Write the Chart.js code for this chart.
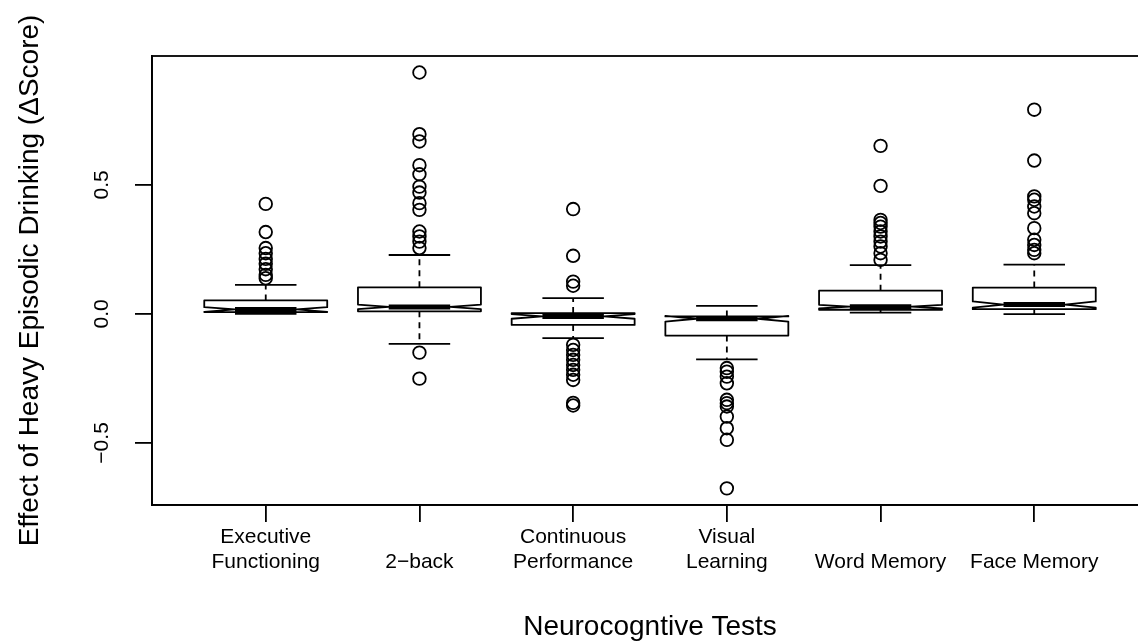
<!DOCTYPE html>
<html>
<head>
<meta charset="utf-8">
<title>Effect of Heavy Episodic Drinking</title>
<script src="https://cdn.jsdelivr.net/npm/chart.js@4.4.1/dist/chart.umd.min.js"></script>
<style>
    html, body { margin: 0; padding: 0; background: #ffffff; overflow: hidden; }
    #wrap { position: relative; width: 1160px; height: 643px; }
</style>
</head>
<body>
<div id="wrap"><canvas id="box-chart"></canvas></div>
<script>
// Test names (two-line tick labels, single-line ones sit on the second line)
const tests = [
    ['Executive', 'Functioning'],
    ['', '2\u2212back'],
    ['Continuous', 'Performance'],
    ['Visual', 'Learning'],
    ['', 'Word Memory'],
    ['', 'Face Memory']
];

// Box statistics per test
const whiskerLow  = [0.000, -0.116, -0.094, -0.176, 0.005, -0.001];
const quart1      = [0.007,  0.010, -0.043, -0.084, 0.016,  0.018];
const notchLow    = [0.008,  0.018, -0.019, -0.030, 0.021,  0.024];
const medians     = [0.017,  0.027, -0.010, -0.019, 0.028,  0.036];
const notchHigh   = [0.026,  0.036, -0.001, -0.008, 0.035,  0.048];
const quart3      = [0.052,  0.103,  0.003, -0.010, 0.090,  0.102];
const whiskerHigh = [0.112,  0.228,  0.061,  0.031, 0.189,  0.191];

// Outliers per test
const outExecutive = [0.426, 0.317, 0.255, 0.235, 0.213, 0.194, 0.173, 0.151, 0.138];
const outTwoBack = [0.935, 0.696, 0.668, 0.576, 0.541, 0.493, 0.470, 0.429, 0.403, 0.319, 0.300, 0.280, 0.255, -0.150, -0.251];
const outContinuous = [0.406, 0.225, 0.125, 0.109, -0.120, -0.140, -0.159, -0.178, -0.198, -0.217, -0.236, -0.256, -0.345, -0.355];
const outVisual = [-0.210, -0.224, -0.243, -0.269, -0.333, -0.346, -0.359, -0.398, -0.443, -0.488, -0.676];
const outWord = [0.651, 0.496, 0.364, 0.352, 0.338, 0.319, 0.300, 0.280, 0.261, 0.235, 0.209];
const outFace = [0.791, 0.594, 0.455, 0.442, 0.416, 0.390, 0.332, 0.287, 0.267, 0.248, 0.235];
const outliers = [outExecutive, outTwoBack, outContinuous, outVisual, outWord, outFace];

// Axis ticks
const yTicks = [-0.5, 0.0, 0.5];

const FONT = "'Liberation Sans', Arial, Helvetica, sans-serif";
const INK = '#000000';
const LINE = 1.8;

const outlierPoints = [];
outliers.forEach((list, i) => {
    list.forEach(v => outlierPoints.push({ x: i + 1, y: v }));
});

/**
 * Draws notched boxes (R style) through the chart scales
 */
const notchedBoxes = {
    id: 'notchedBoxes',
    afterDatasetsDraw(chart) {
        const { ctx } = chart;
        const xs = chart.scales.x;
        const ys = chart.scales.y;
        const half = 0.4;        // half box width (x units)
        const notchFrac = 0.5;
        const staple = 0.2;

        ctx.save();
        ctx.strokeStyle = INK;
        ctx.lineJoin = 'round';

        tests.forEach((t, i) => {
            const c = i + 1;
            const px = v => xs.getPixelForValue(v);
            const py = v => ys.getPixelForValue(v);

            // whiskers (dashed)
            ctx.lineWidth = LINE;
            ctx.setLineDash([6, 5]);
            ctx.beginPath();
            ctx.moveTo(px(c), py(quart3[i]));
            ctx.lineTo(px(c), py(whiskerHigh[i]));
            ctx.moveTo(px(c), py(quart1[i]));
            ctx.lineTo(px(c), py(whiskerLow[i]));
            ctx.stroke();
            ctx.setLineDash([]);

            // staples
            ctx.beginPath();
            ctx.moveTo(px(c - staple), py(whiskerHigh[i]));
            ctx.lineTo(px(c + staple), py(whiskerHigh[i]));
            ctx.moveTo(px(c - staple), py(whiskerLow[i]));
            ctx.lineTo(px(c + staple), py(whiskerLow[i]));
            ctx.stroke();

            // notched box outline
            const pts = [
                [c - half, quart1[i]],
                [c - half, notchLow[i]],
                [c - half * notchFrac, medians[i]],
                [c - half, notchHigh[i]],
                [c - half, quart3[i]],
                [c + half, quart3[i]],
                [c + half, notchHigh[i]],
                [c + half * notchFrac, medians[i]],
                [c + half, notchLow[i]],
                [c + half, quart1[i]]
            ];
            ctx.beginPath();
            pts.forEach((p, k) => {
                if (k === 0) ctx.moveTo(px(p[0]), py(p[1]));
                else ctx.lineTo(px(p[0]), py(p[1]));
            });
            ctx.closePath();
            ctx.stroke();

            // median
            ctx.lineWidth = 5;
            ctx.lineCap = 'butt';
            ctx.beginPath();
            ctx.moveTo(px(c - half * notchFrac), py(medians[i]));
            ctx.lineTo(px(c + half * notchFrac), py(medians[i]));
            ctx.stroke();
        });
        ctx.restore();
    },
    afterDraw(chart) {
        // plot frame
        const { ctx, chartArea: a } = chart;
        ctx.save();
        ctx.strokeStyle = INK;
        ctx.lineWidth = LINE;
        ctx.strokeRect(a.left, a.top, a.right - a.left, a.bottom - a.top);
        ctx.restore();
    }
};

Chart.defaults.font.family = FONT;
Chart.defaults.color = INK;

new Chart(document.getElementById('box-chart'), {
    type: 'scatter',
    data: {
        datasets: [{
            label: 'Outliers',
            data: outlierPoints,
            pointStyle: 'circle',
            pointRadius: 6.3,
            pointHoverRadius: 6.3,
            pointBorderWidth: LINE,
            pointBorderColor: INK,
            pointBackgroundColor: 'rgba(0,0,0,0)'
        }]
    },
    options: {
        responsive: true,
        maintainAspectRatio: false,
        animation: false,
        events: [],
        layout: { padding: { left: 0, top: 56, right: 12, bottom: 0 } },
        plugins: {
            legend: { display: false },
            tooltip: { enabled: false }
        },
        scales: {
            x: {
                type: 'linear',
                min: 0.26,
                max: 6.74,
                afterBuildTicks: scale => {
                    scale.ticks = tests.map((t, i) => ({ value: i + 1 }));
                },
                afterFit: scale => { scale.height = 138; },
                grid: {
                    drawOnChartArea: false,
                    drawTicks: true,
                    tickLength: 17,
                    color: INK,
                    lineWidth: LINE
                },
                border: { display: true, color: INK, width: LINE },
                ticks: {
                    autoSkip: false,
                    maxRotation: 0,
                    minRotation: 0,
                    padding: 2.5,
                    color: INK,
                    font: { size: 21, lineHeight: 1.19 },
                    callback: value => tests[Math.round(value) - 1]
                },
                title: {
                    display: true,
                    text: 'Neurocogntive Tests',
                    color: INK,
                    font: { size: 28, lineHeight: 1 },
                    padding: { top: 0, bottom: 1.6 }
                }
            },
            y: {
                min: -0.7405,
                max: 0.999,
                afterBuildTicks: scale => {
                    scale.ticks = yTicks.map(v => ({ value: v }));
                },
                afterFit: scale => { scale.width = 152; },
                grid: {
                    drawOnChartArea: false,
                    drawTicks: true,
                    tickLength: 17,
                    color: INK,
                    lineWidth: LINE
                },
                border: { display: true, color: INK, width: LINE },
                ticks: {
                    minRotation: 90,
                    maxRotation: 90,
                    crossAlign: 'center',
                    padding: 11.6,
                    color: INK,
                    font: { size: 21 },
                    callback: value => value.toFixed(1).replace('-', '\u2212')
                },
                title: {
                    display: true,
                    text: 'Effect of Heavy Episodic Drinking (\u0394Score)',
                    color: INK,
                    font: { size: 28, lineHeight: 1.2 },
                    padding: { top: 13, bottom: 0 }
                }
            }
        }
    },
    plugins: [notchedBoxes]
});
</script>
</body>
</html>
